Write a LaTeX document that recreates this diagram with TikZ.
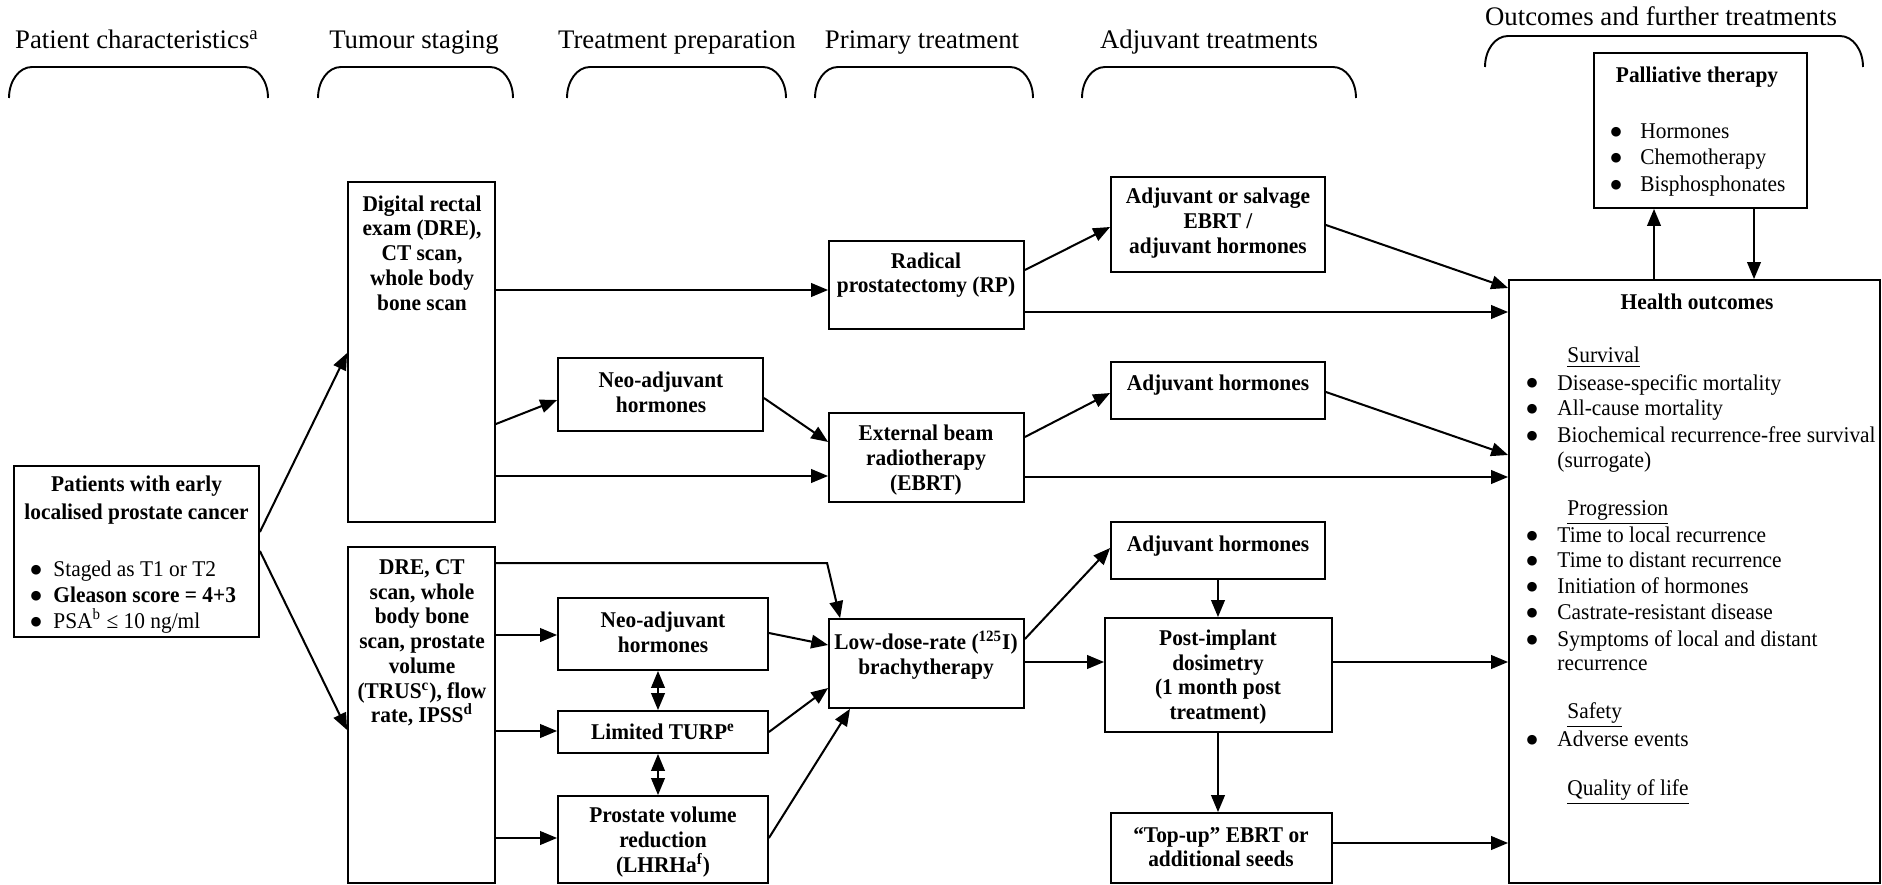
\documentclass[tikz,border=0pt]{standalone}
\usepackage{fontspec}
\setmainfont{Liberation Serif}[FakeStretch=0.95]
\newfontfamily\hfont{Liberation Serif}
\newfontfamily\dvfont{DejaVu Sans}
\usetikzlibrary{arrows.meta,calc}
\tikzset{
 box/.style={draw,line width=0.8pt,inner sep=0pt},
 btxt/.style={align=center,font=\fontsize{10}{11}\selectfont\bfseries,inner sep=0pt},
 rtxt/.style={anchor=base west,font=\fontsize{10}{11}\selectfont,inner sep=0pt},
 bul/.style={anchor=base,font=\dvfont\fontsize{5.6}{6}\selectfont,inner sep=0pt},
 hdr/.style={anchor=base,font=\hfont\fontsize{11.9}{13}\selectfont,inner sep=0pt},
 arr/.style={-{Triangle[length=7.5pt,width=6pt]},line width=0.9pt},
 darr/.style={{Triangle[length=7.5pt,width=6pt]}-{Triangle[length=7.5pt,width=6pt]},line width=0.9pt},
 brk/.style={line width=0.85pt},
}
\newcommand\mkbox[5]{%
 \pgfmathsetmacro\bcx{(#2+#4)/2}%
 \pgfmathsetmacro\bcy{(#3+#5)/2}%
 \pgfmathsetmacro\bw{(#4-#2)*0.4444}%
 \pgfmathsetmacro\bh{(#5-#3)*0.4444}%
 \node[box,minimum width=\bw pt,minimum height=\bh pt] (#1) at (\bcx,\bcy) {};}
\newcommand\brk[3]{\draw[brk] (#1,#3+31) .. controls (#1,#3+14) and (#1+10,#3) .. (#1+23,#3) -- (#2-23,#3) .. controls (#2-10,#3) and (#2,#3+14) .. (#2,#3+31);}
\newcommand\bigbul{●}
\begin{document}
\begin{tikzpicture}[x=0.4444pt,y=-0.4444pt]
\useasboundingbox (0,0) rectangle (1882,885);

% headers
\node[hdr] (h1) at (137,49) {Patient characteristics\textsuperscript{a}};
\node[hdr] (h2) at (414,49) {Tumour staging};
\node[hdr] (h3) at (677,49) {Treatment preparation};
\node[hdr] (h4) at (922,49) {Primary treatment};
\node[hdr] (h5) at (1209,49) {Adjuvant treatments};
\node[hdr] (h6) at (1661,26) {Outcomes and further treatments};
\brk{9}{268}{67}
\brk{318}{513}{67}
\brk{567}{786}{67}
\brk{815}{1033}{67}
\brk{1082}{1356}{67}
\brk{1485}{1863}{36}

% boxes
\mkbox{pat}{14}{466}{259}{637}
\mkbox{dre}{348}{182}{495}{522}
\mkbox{dre2}{348}{547}{495}{883}
\mkbox{neo}{558}{358}{763}{431}
\mkbox{neo2}{558}{598}{768}{670}
\mkbox{turp}{558}{711}{768}{753}
\mkbox{pvr}{558}{796}{768}{883}
\mkbox{rp}{829}{241}{1024}{329}
\mkbox{ebrt}{829}{413}{1024}{502}
\mkbox{ldr}{829}{619}{1024}{708}
\mkbox{adjS}{1111}{177}{1325}{272}
\mkbox{adjM}{1111}{362}{1325}{419}
\mkbox{adjL}{1111}{522}{1325}{579}
\mkbox{post}{1105}{618}{1332}{732}
\mkbox{topup}{1111}{813}{1332}{883}
\mkbox{ho}{1509}{280}{1880}{883}
\mkbox{pall}{1594}{53}{1807}{208}

% box texts
\node[btxt] (pat-t) at (136.5,500) {Patients with early\\[1.2pt]localised prostate cancer};
\node[bul] (pat-b1) at (36,573) {\bigbul};
\node[bul] (pat-b2) at (36,599) {\bigbul};
\node[bul] (pat-b3) at (36,625) {\bigbul};
\node[rtxt] (pat-i1) at (53,576) {Staged as T1 or T2};
\node[rtxt] (pat-i2) at (53,602) {\bfseries Gleason score = 4+3};
\node[rtxt] (pat-i3) at (53,628) {PSA\textsuperscript{b} ≤ 10 ng/ml};

\node[btxt] (dre-t) at (422,253) {Digital rectal\\exam (DRE),\\CT scan,\\whole body\\bone scan};
\node[btxt] (dre2-t) at (422,643) {DRE, CT\\scan, whole\\body bone\\scan, prostate\\volume\\(TRUS\textsuperscript{c}), flow\\rate, IPSS\textsuperscript{d}};
\node[btxt] (neo-t) at (661,392) {Neo-adjuvant\\hormones};
\node[btxt] (neo2-t) at (663,632) {Neo-adjuvant\\hormones};
\node[btxt] (turp-t) at (663,732) {Limited TURP\textsuperscript{e}};
\node[btxt] (pvr-t) at (663,842) {Prostate volume\\reduction\\(LHRHa\textsuperscript{f})};
\node[btxt] (rp-t) at (926,275) {Radical\\prostatectomy (RP)};
\node[btxt] (ebrt-t) at (926,460) {External beam\\radiotherapy\\(EBRT)};
\node[btxt] (ldr-t) at (926,655) {Low-dose-rate (\textsuperscript{125}I)\\brachytherapy};
\node[btxt] (adjS-t) at (1218,223) {Adjuvant or salvage\\EBRT /\\adjuvant hormones};
\node[btxt] (adjM-t) at (1218,385) {Adjuvant hormones};
\node[btxt] (adjL-t) at (1218,546) {Adjuvant hormones};
\node[btxt] (post-t) at (1218,677) {Post-implant\\dosimetry\\(1 month post\\treatment)};
\node[btxt] (topup-t) at (1221,847) {“Top-up” EBRT or\\additional seeds};

\node[btxt] (pall-t) at (1697,77) {Palliative therapy};
\node[bul] (pall-b1) at (1616,136) {\bigbul};
\node[bul] (pall-b2) at (1616,162) {\bigbul};
\node[bul] (pall-b3) at (1616,189) {\bigbul};
\node[rtxt] (pall-i1) at (1640,139) {Hormones};
\node[rtxt] (pall-i2) at (1640,165) {Chemotherapy};
\node[rtxt] (pall-i3) at (1640,192) {Bisphosphonates};

\node[btxt] (ho-t) at (1697,302) {Health outcomes};
\node[rtxt] (ho-s1) at (1567,363) {\underline{Survival}};
\node[rtxt] (ho-s2) at (1567,515) {\underline{Progression}};
\node[rtxt] (ho-s3) at (1567,718) {\underline{Safety}};
\node[rtxt] (ho-s4) at (1567,795) {\underline{Quality of life}};
\foreach \n/\yy in {1/387,2/412,3/439,4/539,5/564,6/590,7/616,8/643,9/743}
  \node[bul] (ho-b\n) at (1532,\yy) {\bigbul};
\node[rtxt] (ho-i1) at (1557,390) {Disease-specific mortality};
\node[rtxt] (ho-i2) at (1557,415) {All-cause mortality};
\node[rtxt] (ho-i3) at (1557,442) {Biochemical recurrence-free survival};
\node[rtxt] (ho-i3b) at (1557,467) {(surrogate)};
\node[rtxt] (ho-i4) at (1557,542) {Time to local recurrence};
\node[rtxt] (ho-i5) at (1557,567) {Time to distant recurrence};
\node[rtxt] (ho-i6) at (1557,593) {Initiation of hormones};
\node[rtxt] (ho-i7) at (1557,619) {Castrate-resistant disease};
\node[rtxt] (ho-i8) at (1557,646) {Symptoms of local and distant};
\node[rtxt] (ho-i8b) at (1557,670) {recurrence};
\node[rtxt] (ho-i9) at (1557,746) {Adverse events};

% connectors
\draw[arr] ($(pat.east)+(0,-19.5)$) -- ($(dre.west)+(0,1)$);
\draw[arr] ($(pat.east)+(0,-0.5)$) -- ($(dre2.west)+(0,15)$);
\draw[arr] ($(dre.east)+(0,-62)$) -- ($(rp.west)+(0,5)$);
\draw[arr] ($(dre.east)+(0,72)$) -- ($(neo.west)+(0,5.5)$);
\draw[arr] ($(dre.east)+(0,124)$) -- ($(ebrt.west)+(0,18.5)$);
\draw[arr] ($(neo.east)+(0,3.5)$) -- ($(ebrt.west)+(0,-15.5)$);
\draw[arr] ($(rp.east)+(0,-15)$) -- ($(adjS.west)+(0,2.5)$);
\draw[arr] ($(rp.east)+(0,27)$) -- ($(ho.west)+(0,-269.5)$);
\draw[arr] ($(adjS.east)+(0,0.5)$) -- ($(ho.west)+(0,-293.5)$);
\draw[arr] ($(ebrt.east)+(0,-20.5)$) -- ($(adjM.west)+(0,2.5)$);
\draw[arr] ($(ebrt.east)+(0,19.5)$) -- ($(ho.west)+(0,-104.5)$);
\draw[arr] ($(adjM.east)+(0,1.5)$) -- ($(ho.west)+(0,-126.5)$);
\draw[arr] ($(dre2.north east)+(0,17)$) -- ($(ldr.north west)+(-1,-55)$) -- ($(ldr.north west)+(12,0)$);
\draw[arr] ($(dre2.east)+(0,-80)$) -- ($(neo2.west)+(0,1)$);
\draw[arr] ($(dre2.east)+(0,16)$) -- ($(turp.west)+(0,-1)$);
\draw[arr] ($(dre2.east)+(0,123)$) -- ($(pvr.west)+(0,-1.5)$);
\draw[arr] ($(neo2.east)+(0,-1)$) -- ($(ldr.west)+(0,-18.5)$);
\draw[arr] (turp.east) -- ($(ldr.west)+(0,24.5)$);
\draw[arr] ($(pvr.east)+(0,-1.5)$) -- ($(ldr.south)+(-76.5,0)$);
\draw[darr] ($(neo2.south)+(-5,0)$) -- ($(turp.north)+(-5,0)$);
\draw[darr] ($(turp.south)+(-5,0)$) -- ($(pvr.north)+(-5,0)$);
\draw[arr] ($(ldr.east)+(0,-24.5)$) -- ($(adjL.west)+(0,-2.5)$);
\draw[arr] ($(ldr.east)+(0,-1.5)$) -- ($(post.west)+(0,-13)$);
\draw[arr] (adjL.south) -- (adjL.south |- post.north);
\draw[arr] ($(post.east)+(0,-13)$) -- ($(ho.west)+(0,80.5)$);
\draw[arr] ($(post.south)+(-0.5,0)$) -- ($(post.south |- topup.north)+(-0.5,0)$);
\draw[arr] ($(topup.east)+(0,-5)$) -- ($(ho.west)+(0,261.5)$);
\draw[arr] ($(ho.north)+(-40.5,0)$) -- ($(pall.south)+(-46.5,0)$);
\draw[arr] ($(pall.south)+(53.5,0)$) -- ($(ho.north)+(59.5,0)$);
\end{tikzpicture}
\end{document}
